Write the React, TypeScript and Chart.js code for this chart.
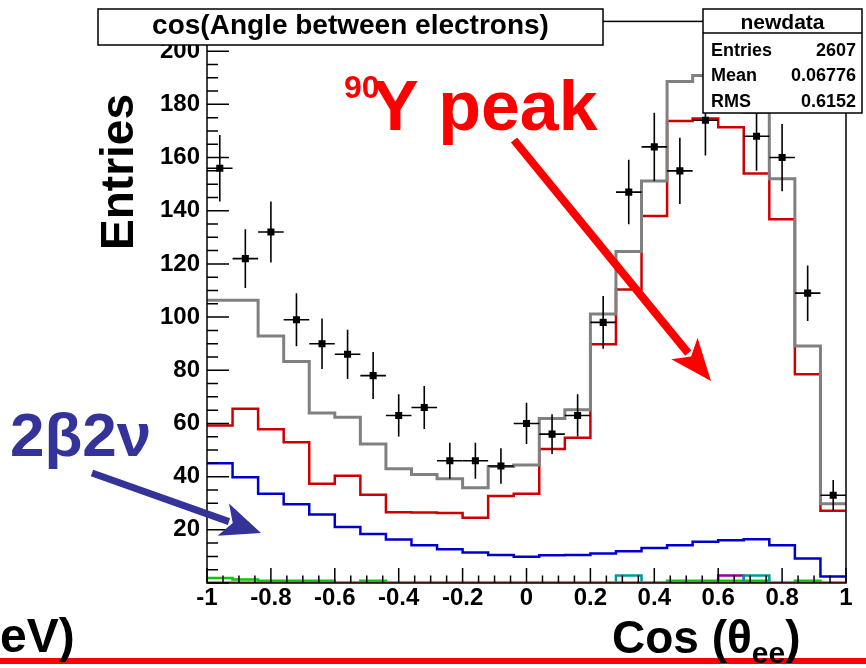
import React, { useEffect, useRef } from "react";
import { Chart, registerables } from "chart.js";

Chart.register(...registerables);

// Histogram binning: 25 bins of cos(theta_ee) between -1 and 1
const binEdges = [
  -1, -0.92, -0.84, -0.76, -0.68, -0.6, -0.52, -0.44, -0.36, -0.28, -0.2, -0.12, -0.04,
  0.04, 0.12, 0.2, 0.28, 0.36, 0.44, 0.52, 0.6, 0.68, 0.76, 0.84, 0.92, 1,
];
const binCenters = [
  -0.96, -0.88, -0.8, -0.72, -0.64, -0.56, -0.48, -0.4, -0.32, -0.24, -0.16, -0.08, 0,
  0.08, 0.16, 0.24, 0.32, 0.4, 0.48, 0.56, 0.64, 0.72, 0.8, 0.88, 0.96,
];

// Measured events ("newdata")
const dataCounts = [
  156, 122, 132, 99, 90, 86, 78, 63, 66, 46, 46, 44, 60, 56, 63, 98, 147, 164, 155, 174,
  192, 168, 160, 109, 33,
];

// Simulated components
const totalMC = [
  106.3, 106.3, 92.9, 83.3, 63.9, 62.3, 52.3, 43, 40.8, 39.2, 35.8, 43.8, 44.4, 61.9, 65.2,
  101.2, 124.7, 151.2, 188.6, 190.9, 192, 177, 152, 89.1, 29.8,
];
const yttriumMC = [
  59.2, 65.5, 57.8, 52.9, 37.3, 40.3, 33.2, 26.6, 26.5, 26.3, 24.5, 32.7, 33.6, 50.4, 54.6,
  89.8, 110.4, 138, 173.7, 174.7, 171.4, 154, 136.8, 78.5, 27.2,
];
const twoNuMC = [
  45, 39.8, 33.6, 29.6, 25.8, 21.1, 18.4, 16.4, 14.2, 12.7, 11.5, 10.5, 9.9, 10.4, 10.5,
  11.1, 11.9, 13.2, 14.2, 15.5, 16.1, 16.5, 14.2, 9.2, 2.4,
];
const greenMC = [
  1.9, 1.3, 0.8, 0.8, 0.8, 0, 0.8, 0, 0, 0, 0, 0, 0, 0, 0, 0, 0, 0, 0.8, 0.8, 0.8, 0.8, 0,
  0.8, 0,
];
const magentaMC = [
  0, 0, 0, 0, 0, 0, 0, 0, 0, 0, 0, 0, 0, 0, 0, 0, 0, 0, 0, 0, 2.8, 0, 0, 0, 0,
];
const cyanMC = [
  0, 0, 0, 0, 0, 0, 0, 0, 0, 0, 0, 0, 0, 0, 0, 0, 2.8, 0, 0, 0, 0, 2.8, 0, 0, 0,
];
const emptyMC = [
  0, 0, 0, 0, 0, 0, 0, 0, 0, 0, 0, 0, 0, 0, 0, 0, 0, 0, 0, 0, 0, 0, 0, 0, 0,
];

const statsRows = [
  ["Entries", "2607"],
  ["Mean", "0.06776"],
  ["RMS", "0.6152"],
];

const FONT = "'Liberation Sans', Arial, Helvetica, sans-serif";

// Turn bin contents into a step outline: left and right edge of every bin
function stepOutline(values: number[]) {
  const pts: { x: number; y: number }[] = [];
  values.forEach((v, i) => {
    pts.push({ x: binEdges[i], y: v });
    pts.push({ x: binEdges[i + 1], y: v });
  });
  return pts;
}

function histDataset(values: number[], color: string, width: number, order: number) {
  return {
    data: stepOutline(values),
    borderColor: color,
    borderWidth: width,
    pointRadius: 0,
    pointHoverRadius: 0,
    fill: false,
    tension: 0,
    borderJoinStyle: "miter" as const,
    order,
  };
}

function drawArrow(
  ctx: CanvasRenderingContext2D,
  x0: number,
  y0: number,
  x1: number,
  y1: number,
  shaft: number,
  headLen: number,
  headHalf: number,
  color: string
) {
  const dx = x1 - x0;
  const dy = y1 - y0;
  const len = Math.hypot(dx, dy);
  const ux = dx / len;
  const uy = dy / len;
  const nx = -uy;
  const ny = ux;
  const bx = x1 - ux * headLen;
  const by = y1 - uy * headLen;
  ctx.save();
  ctx.strokeStyle = color;
  ctx.fillStyle = color;
  ctx.lineWidth = shaft;
  ctx.lineCap = "butt";
  ctx.beginPath();
  ctx.moveTo(x0, y0);
  ctx.lineTo(bx + ux * 6, by + uy * 6);
  ctx.stroke();
  ctx.beginPath();
  ctx.moveTo(x1, y1);
  ctx.lineTo(bx + nx * headHalf, by + ny * headHalf);
  ctx.lineTo(bx + ux * headLen * 0.25, by + uy * headLen * 0.25);
  ctx.lineTo(bx - nx * headHalf, by - ny * headHalf);
  ctx.closePath();
  ctx.fill();
  ctx.restore();
}

const histFramePlugin = {
  id: "histFrame",
  afterDatasetsDraw(chart: any) {
    const { ctx, chartArea: a, scales } = chart;
    const xs = scales.x;
    const ys = scales.y;
    ctx.save();

    // error bars of the measured points
    ctx.strokeStyle = "#000";
    ctx.lineWidth = 1.6;
    dataCounts.forEach((n, i) => {
      const px = xs.getPixelForValue(binCenters[i]);
      const py = ys.getPixelForValue(n);
      const e = Math.sqrt(n);
      ctx.beginPath();
      ctx.moveTo(px, ys.getPixelForValue(n + e));
      ctx.lineTo(px, ys.getPixelForValue(n - e));
      ctx.moveTo(xs.getPixelForValue(binEdges[i]), py);
      ctx.lineTo(xs.getPixelForValue(binEdges[i + 1]), py);
      ctx.stroke();
    });

    // inward tick marks, four subdivisions between labelled ticks
    ctx.lineWidth = 1.5;
    ctx.strokeStyle = "#000";
    ctx.beginPath();
    const xt = xs.ticks.map((t: any) => t.value);
    for (let i = 0; i < xt.length; i++) {
      const p = xs.getPixelForValue(xt[i]);
      ctx.moveTo(p, a.bottom);
      ctx.lineTo(p, a.bottom - 15);
      if (i < xt.length - 1) {
        const step = (xt[i + 1] - xt[i]) / 4;
        for (let k = 1; k < 4; k++) {
          const q = xs.getPixelForValue(xt[i] + k * step);
          ctx.moveTo(q, a.bottom);
          ctx.lineTo(q, a.bottom - 7.5);
        }
      }
    }
    const yt = ys.ticks.map((t: any) => t.value);
    const ystep = (yt[1] - yt[0]) / 4;
    for (let i = 0; i < yt.length; i++) {
      const p = ys.getPixelForValue(yt[i]);
      ctx.moveTo(a.left, p);
      ctx.lineTo(a.left + 22, p);
      for (let k = 1; k < 4; k++) {
        const v = yt[i] + k * ystep;
        if (v > ys.max) break;
        const q = ys.getPixelForValue(v);
        ctx.moveTo(a.left, q);
        ctx.lineTo(a.left + 11, q);
      }
    }
    ctx.stroke();

    // frame
    ctx.lineWidth = 1.5;
    ctx.strokeRect(a.left, a.top, a.right - a.left, a.bottom - a.top);
    ctx.restore();
  },
  afterDraw(chart: any) {
    const { ctx } = chart;
    ctx.save();

    // title box
    ctx.fillStyle = "#fff";
    ctx.fillRect(98, 9, 505, 36);
    ctx.strokeStyle = "#000";
    ctx.lineWidth = 1.5;
    ctx.strokeRect(98, 9, 505, 36);
    ctx.fillStyle = "#000";
    ctx.font = `bold 28px ${FONT}`;
    ctx.textAlign = "center";
    ctx.textBaseline = "alphabetic";
    ctx.fillText("cos(Angle between electrons)", 350.5, 34);

    // statistics box
    ctx.fillStyle = "#fff";
    ctx.fillRect(703, 9, 159, 104);
    ctx.strokeRect(703, 9, 159, 104);
    ctx.beginPath();
    ctx.moveTo(703, 33);
    ctx.lineTo(862, 33);
    ctx.stroke();
    ctx.fillStyle = "#000";
    ctx.font = `bold 21px ${FONT}`;
    ctx.textAlign = "center";
    ctx.fillText("newdata", 782.5, 29);
    ctx.font = `bold 18px ${FONT}`;
    const rowBase = [56, 81, 107];
    statsRows.forEach(([k, v], i) => {
      ctx.textAlign = "left";
      ctx.fillText(k, 711, rowBase[i]);
      ctx.textAlign = "right";
      ctx.fillText(v, 856, rowBase[i]);
    });

    // y axis title
    ctx.save();
    ctx.translate(133, 172);
    ctx.rotate(-Math.PI / 2);
    ctx.textAlign = "center";
    ctx.font = `bold 46px ${FONT}`;
    ctx.fillText("Entries", 0, 0);
    ctx.restore();

    // red rule along the bottom
    ctx.fillStyle = "#ff0000";
    ctx.fillRect(0, 658, 866, 6);

    // x axis title with subscript
    ctx.fillStyle = "#000";
    ctx.textAlign = "left";
    ctx.font = `bold 46px ${FONT}`;
    const head = "Cos (\u03b8";
    ctx.fillText(head, 612, 653);
    let cx = 612 + ctx.measureText(head).width;
    ctx.font = `bold 30px ${FONT}`;
    ctx.fillText("ee", cx, 663);
    cx += ctx.measureText("ee").width;
    ctx.font = `bold 46px ${FONT}`;
    ctx.fillText(")", cx, 653);

    // partial label at the left edge
    ctx.font = `bold 48px ${FONT}`;
    ctx.fillText("eV)", 0, 652);

    // annotations
    ctx.fillStyle = "#ff0000";
    ctx.font = `bold 32px ${FONT}`;
    ctx.fillText("90", 344, 98);
    ctx.font = `bold 70px ${FONT}`;
    ctx.fillText("Y peak", 372, 130);
    drawArrow(ctx, 514, 140, 711, 381, 8, 42, 17, "#ff0000");

    ctx.fillStyle = "#333399";
    ctx.font = `bold 62px ${FONT}`;
    ctx.fillText("2\u03b22\u03bd", 10, 456);
    drawArrow(ctx, 92, 473, 261, 533, 7, 40, 17, "#333399");

    ctx.restore();
  },
};

export default function App() {
  const canvasRef = useRef<HTMLCanvasElement | null>(null);

  useEffect(() => {
    const canvas = canvasRef.current;
    if (!canvas) return;
    const pointData = binCenters.map((x, i) => ({ x, y: dataCounts[i] }));
    const chart = new Chart(canvas, {
      type: "line",
      data: {
        datasets: [
          {
            data: pointData,
            showLine: false,
            pointStyle: "rect",
            pointRadius: 5,
            pointHoverRadius: 5,
            pointBackgroundColor: "#000",
            pointBorderWidth: 0,
            borderColor: "#000",
            order: 0,
          } as any,
          histDataset(totalMC, "#808080", 3, 1),
          histDataset(emptyMC, "#ff5555", 3, 2),
          histDataset(yttriumMC, "#cc0000", 2.5, 3),
          histDataset(twoNuMC, "#0000cc", 2.5, 4),
          histDataset(cyanMC, "#009999", 2.5, 5),
          histDataset(magentaMC, "#990099", 2.5, 6),
          histDataset(greenMC, "#00cc00", 2.5, 7),
        ],
      },
      options: {
        responsive: false,
        animation: false,
        events: [],
        layout: { padding: { left: 0, top: 18, right: 20, bottom: 0 } },
        plugins: {
          legend: { display: false },
          title: { display: false },
          tooltip: { enabled: false },
        },
        scales: {
          x: {
            type: "linear",
            min: -1,
            max: 1,
            grid: { display: false, drawTicks: false },
            border: { display: false },
            afterFit: (scale: any) => {
              scale.height = 85;
            },
            ticks: {
              stepSize: 0.2,
              autoSkip: false,
              maxRotation: 0,
              padding: 1,
              color: "#000",
              font: { family: FONT, size: 24, weight: "bold" },
              callback: (v: any) => {
                const r = Math.round(Number(v) * 10) / 10;
                return r === 0 ? "0" : String(r);
              },
            },
          },
          y: {
            type: "linear",
            min: 0,
            max: 211.2,
            grid: { display: false, drawTicks: false },
            border: { display: false },
            afterFit: (scale: any) => {
              scale.width = 207;
            },
            ticks: {
              stepSize: 20,
              includeBounds: false,
              padding: 7,
              color: "#000",
              font: { family: FONT, size: 24, weight: "bold" },
              callback: (v: any) => (Number(v) === 0 ? "" : String(Math.round(Number(v)))),
            },
          },
        },
      } as any,
      plugins: [histFramePlugin],
    });
    return () => chart.destroy();
  }, []);

  return (
    <div style={{ position: "fixed", left: 0, top: 0, width: 866, height: 668, background: "#fff" }}>
      <canvas ref={canvasRef} width={866} height={668} style={{ display: "block" }} />
    </div>
  );
}
